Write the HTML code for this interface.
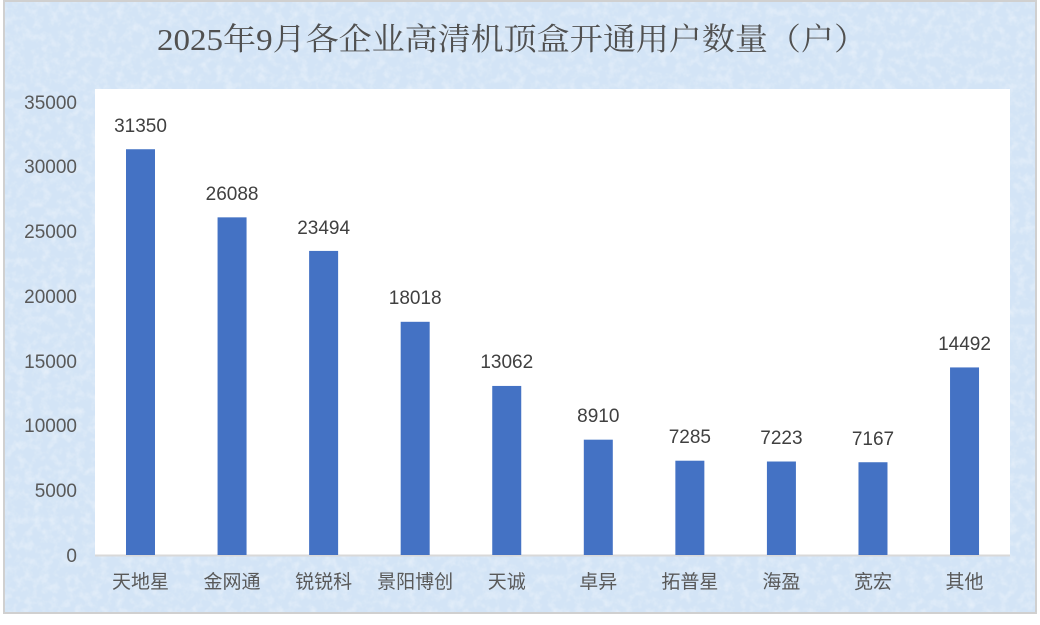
<!DOCTYPE html>
<html><head><meta charset="utf-8"><style>
html,body{margin:0;padding:0;background:#fff;}
</style></head><body>
<svg width="1040" height="620" viewBox="0 0 1040 620" xmlns="http://www.w3.org/2000/svg">
<defs>
<filter id="tex" x="0" y="0" width="100%" height="100%">
<feTurbulence type="fractalNoise" baseFrequency="0.12" numOctaves="3" seed="3" result="n"/>
<feColorMatrix in="n" type="matrix" values="0 0 0 0 1  0 0 0 0 1  0 0 0 0 1  0 0 0 0.7 -0.3" result="w"/>
<feComposite in="w" in2="SourceGraphic" operator="atop"/>
</filter>
</defs>
<rect x="0" y="0" width="1040" height="620" fill="#fff"/>
<rect x="4" y="1" width="1032" height="612" fill="#d3e4f6" stroke="#d0d0d0" stroke-width="2"/>
<rect x="5" y="2" width="1030" height="610" fill="#d3e4f6" filter="url(#tex)"/>
<rect x="95" y="89" width="915" height="466" fill="#fff"/>
<line x1="95" y1="555.5" x2="1010" y2="555.5" stroke="#d9d9d9" stroke-width="2"/>
<text x="512" y="50" text-anchor="middle" font-family="Liberation Serif, Noto Serif CJK SC, serif" font-size="31" fill="#505050" textLength="710" lengthAdjust="spacingAndGlyphs">2025年9月各企业高清机顶盒开通用户数量（户）</text>
<g font-family="Liberation Sans, sans-serif" font-size="19" fill="#595959" text-anchor="end">
<text x="77" y="562">0</text>
<text x="77" y="497">5000</text>
<text x="77" y="432">10000</text>
<text x="77" y="368">15000</text>
<text x="77" y="303">20000</text>
<text x="77" y="238">25000</text>
<text x="77" y="173">30000</text>
<text x="77" y="109">35000</text>
</g>
<g fill="#4472c4">
<rect x="126" y="149.24" width="29" height="405.76"/>
<rect x="217.56" y="217.35" width="29" height="337.65"/>
<rect x="309.12" y="250.92" width="29" height="304.08"/>
<rect x="400.68" y="321.8" width="29" height="233.2"/>
<rect x="492.24" y="385.94" width="29" height="169.06"/>
<rect x="583.8" y="439.68" width="29" height="115.32"/>
<rect x="675.36" y="460.71" width="29" height="94.29"/>
<rect x="766.92" y="461.51" width="29" height="93.49"/>
<rect x="858.48" y="462.24" width="29" height="92.76"/>
<rect x="950.04" y="367.43" width="29" height="187.57"/>
</g>
<g font-family="Liberation Sans, sans-serif" font-size="19" fill="#404040" text-anchor="middle">
<text x="140.5" y="132">31350</text>
<text x="232.06" y="200">26088</text>
<text x="323.62" y="234">23494</text>
<text x="415.18" y="304">18018</text>
<text x="506.74" y="368">13062</text>
<text x="598.3" y="422">8910</text>
<text x="689.86" y="443">7285</text>
<text x="781.42" y="444">7223</text>
<text x="872.98" y="445">7167</text>
<text x="964.54" y="350">14492</text>
</g>
<g font-family="Liberation Sans, Noto Sans CJK SC, sans-serif" font-size="19" fill="#595959" text-anchor="middle">
<text x="140.5" y="588">天地星</text>
<text x="232.06" y="588">金网通</text>
<text x="323.62" y="588">锐锐科</text>
<text x="415.18" y="588">景阳博创</text>
<text x="506.74" y="588">天诚</text>
<text x="598.3" y="588">卓异</text>
<text x="689.86" y="588">拓普星</text>
<text x="781.42" y="588">海盈</text>
<text x="872.98" y="588">宽宏</text>
<text x="964.54" y="588">其他</text>
</g>
</svg>
</body></html>
